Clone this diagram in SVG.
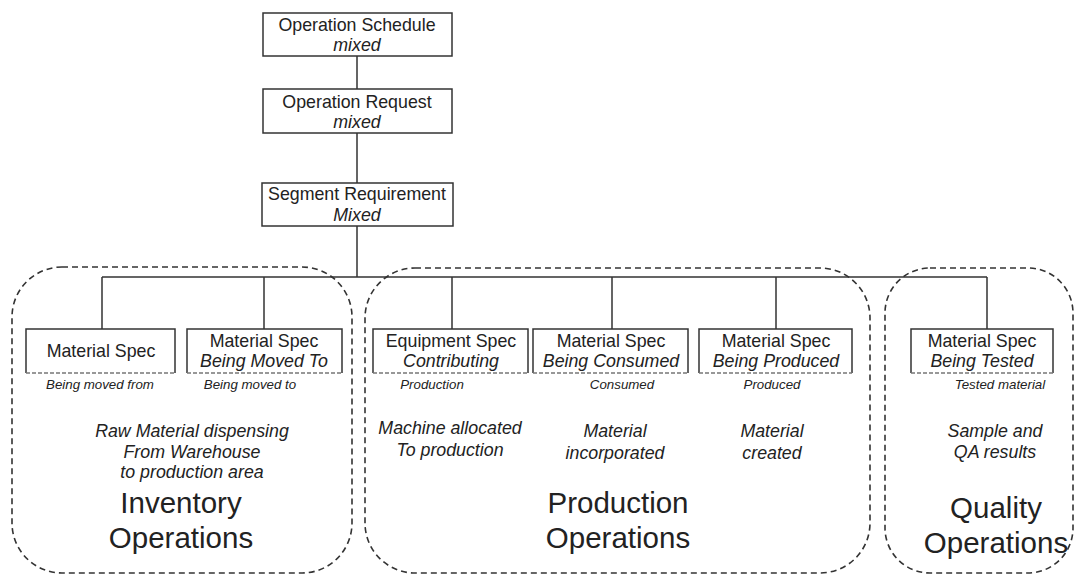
<svg xmlns="http://www.w3.org/2000/svg" width="1076" height="575" viewBox="0 0 1076 575">
<style>
text{font-family:"Liberation Sans",Arial,sans-serif;fill:#222;text-anchor:middle}
.b{font-size:17.8px}
.i{font-size:17.8px;font-style:italic}
.s{font-size:13.3px;font-style:italic}
.big{font-size:29.5px}
.box{fill:#fff;stroke:#333;stroke-width:1.5}
.bot{stroke:#777;stroke-width:1.3;stroke-dasharray:4 2;fill:none}
.reg{fill:none;stroke:#333;stroke-width:1.6;stroke-dasharray:6 4}
.ln{stroke:#333;stroke-width:1.5;fill:none}
</style>
<rect width="1076" height="575" fill="#fff"/>
<g id="regions">
<rect class="reg" x="12" y="267" width="340" height="306" rx="50"/>
<rect class="reg" x="365" y="268" width="505" height="305" rx="50"/>
<rect class="reg" x="885" y="268" width="188" height="305" rx="45"/>
</g>
<g id="connectors">
<path class="ln" d="M357 56V89M357 133V183M357 226V277M102 277H987M102 277V329M264 277V329M452 277V329M612 277V329M776 277V329M987 277V329"/>
</g>
<g id="op-schedule">
<rect class="box" x="263" y="13" width="189" height="43"/>
<text class="b" x="357" y="31">Operation Schedule</text>
<text class="i" x="357" y="51">mixed</text>
</g>
<g id="op-request">
<rect class="box" x="263" y="89" width="189" height="44"/>
<text class="b" x="357" y="108">Operation Request</text>
<text class="i" x="357" y="128">mixed</text>
</g>
<g id="seg-req">
<rect class="box" x="262" y="183" width="191" height="43"/>
<text class="b" x="357" y="200">Segment Requirement</text>
<text class="i" x="357" y="221">Mixed</text>
</g>
<g id="ms-from">
<path class="box" d="M26 373V329H175V373"/>
<line class="bot" x1="26" y1="373" x2="175" y2="373"/>
<text class="b" x="101" y="357">Material Spec</text>
<text class="s" x="100" y="389">Being moved from</text>
</g>
<g id="ms-to">
<path class="box" d="M187 373V329H342V373"/>
<line class="bot" x1="187" y1="373" x2="342" y2="373"/>
<text class="b" x="264" y="347">Material Spec</text>
<text class="i" x="264" y="367">Being Moved To</text>
<text class="s" x="250" y="389">Being moved to</text>
</g>
<g id="eq-spec">
<path class="box" d="M373 373V329H528V373"/>
<line class="bot" x1="373" y1="373" x2="528" y2="373"/>
<text class="b" x="451" y="347">Equipment Spec</text>
<text class="i" x="451" y="367">Contributing</text>
<text class="s" x="432" y="389">Production</text>
</g>
<g id="ms-consumed">
<path class="box" d="M533 373V329H688V373"/>
<line class="bot" x1="533" y1="373" x2="688" y2="373"/>
<text class="b" x="611" y="347">Material Spec</text>
<text class="i" x="611" y="367">Being Consumed</text>
<text class="s" x="622" y="389">Consumed</text>
</g>
<g id="ms-produced">
<path class="box" d="M699 373V329H852V373"/>
<line class="bot" x1="699" y1="373" x2="852" y2="373"/>
<text class="b" x="776" y="347">Material Spec</text>
<text class="i" x="776" y="367">Being Produced</text>
<text class="s" x="772" y="389">Produced</text>
</g>
<g id="ms-tested">
<path class="box" d="M911 373V329H1053V373"/>
<line class="bot" x1="911" y1="373" x2="1053" y2="373"/>
<text class="b" x="982" y="347">Material Spec</text>
<text class="i" x="982" y="367">Being Tested</text>
<text class="s" x="1000" y="389">Tested material</text>
</g>
<g id="inventory-text">
<text class="i" x="192" y="437">Raw Material dispensing</text>
<text class="i" x="192" y="458">From Warehouse</text>
<text class="i" x="192" y="478">to production area</text>
<text class="big" x="181" y="513">Inventory</text>
<text class="big" x="181" y="548">Operations</text>
</g>
<g id="production-text">
<text class="i" x="450" y="434">Machine allocated</text>
<text class="i" x="450" y="456">To production</text>
<text class="i" x="615" y="437">Material</text>
<text class="i" x="615" y="459">incorporated</text>
<text class="i" x="772" y="437">Material</text>
<text class="i" x="772" y="459">created</text>
<text class="big" x="618" y="513">Production</text>
<text class="big" x="618" y="548">Operations</text>
</g>
<g id="quality-text">
<text class="i" x="995" y="437">Sample and</text>
<text class="i" x="995" y="458">QA results</text>
<text class="big" x="996" y="518">Quality</text>
<text class="big" x="996" y="553">Operations</text>
</g>
</svg>
